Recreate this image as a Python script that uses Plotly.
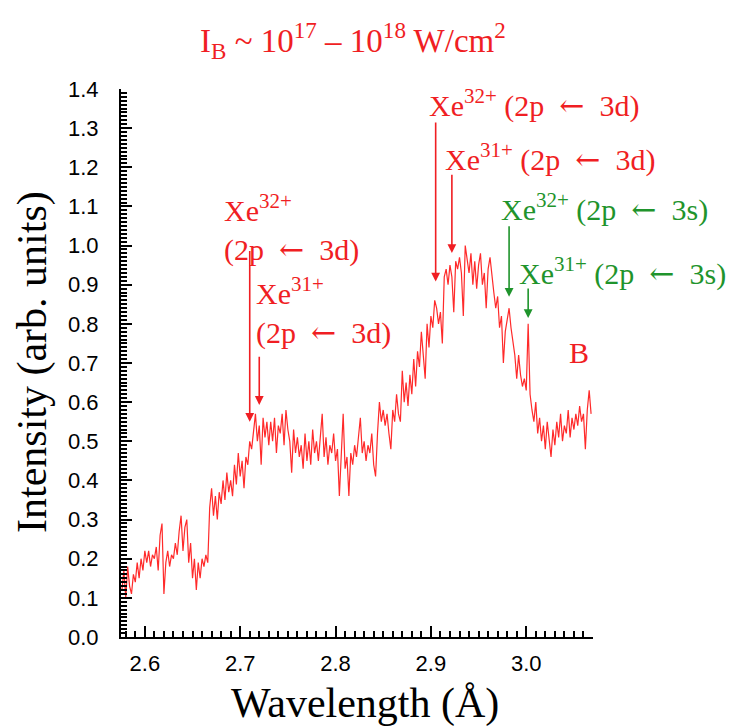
import plotly.graph_objects as go

# ---- data ----
WL_START = 2.576
WL_STEP = 0.002

seg_a = [0.12, 0.17, 0.10, 0.18, 0.13, 0.11, 0.16, 0.14, 0.19, 0.15, 0.20, 0.17, 0.22]
seg_b = [0.19, 0.22, 0.18, 0.21, 0.20, 0.23, 0.17, 0.26, 0.29, 0.11, 0.19, 0.22, 0.18, 0.21, 0.20]
seg_c = [0.24, 0.21, 0.27, 0.31, 0.22, 0.28, 0.30, 0.19, 0.24, 0.15, 0.20, 0.12, 0.19, 0.15, 0.20]
seg_d = [0.18, 0.21, 0.19, 0.33, 0.38, 0.31, 0.36, 0.30, 0.37, 0.34,
         0.40, 0.35, 0.42, 0.37, 0.40, 0.36, 0.44, 0.39, 0.47, 0.41]
seg_e = [0.45, 0.38, 0.46, 0.44, 0.50, 0.48, 0.53, 0.57, 0.50, 0.54, 0.44, 0.56, 0.51, 0.55, 0.49]
seg_f = [0.55, 0.50, 0.56, 0.47, 0.54, 0.52, 0.57, 0.49, 0.58, 0.53, 0.50, 0.42, 0.53,
         0.47, 0.51, 0.46, 0.49, 0.43, 0.52, 0.45, 0.50, 0.44, 0.53, 0.47, 0.50]
seg_g = [0.45, 0.52, 0.57, 0.46, 0.51, 0.44, 0.49, 0.47, 0.52, 0.45, 0.48, 0.36, 0.47, 0.57, 0.43,
         0.46, 0.36, 0.47, 0.44, 0.49, 0.46, 0.51, 0.56, 0.47, 0.50, 0.45, 0.49, 0.47, 0.52, 0.44]
seg_h = [0.41, 0.52, 0.60, 0.55, 0.58, 0.54, 0.57, 0.52, 0.48, 0.58, 0.55, 0.62, 0.57, 0.55, 0.68,
         0.60, 0.65, 0.59, 0.67, 0.62, 0.71, 0.64, 0.73, 0.69, 0.78, 0.72, 0.66, 0.80, 0.74, 0.82]
seg_i = [0.79, 0.86, 0.84, 0.80, 0.83, 0.75, 0.92, 0.94, 0.90, 0.95, 0.92, 0.83, 0.96, 0.94, 0.97,
         0.93, 0.82, 1.00, 0.97, 0.93, 0.98, 0.90, 0.96, 0.89, 0.95, 0.98, 0.90, 0.93, 0.84, 0.94,
         0.97, 0.92, 0.88,
         0.84, 0.87, 0.79, 0.82, 0.70, 0.78, 0.81, 0.84, 0.79, 0.76, 0.72, 0.66, 0.72, 0.67, 0.64,
         0.66, 0.63, 0.80, 0.62, 0.58]
seg_j = [0.55, 0.60, 0.52, 0.56, 0.50, 0.54, 0.48, 0.55, 0.50, 0.46, 0.53, 0.49, 0.55, 0.51, 0.57,
         0.50, 0.54, 0.52, 0.58, 0.51, 0.56, 0.53, 0.57, 0.54, 0.59, 0.55, 0.57, 0.48, 0.58, 0.63, 0.57]

intensity = seg_a + seg_b + seg_c + seg_d + seg_e + seg_f + seg_g + seg_h + seg_i + seg_j
wavelength = [round(WL_START + WL_STEP * i, 4) for i in range(len(intensity))]

x_ticks = [2.6, 2.7, 2.8, 2.9, 3.0]
y_ticks = [round(0.1 * k, 1) for k in range(15)]

RED = "#f01e23"
GREEN = "#1f942c"
ARROW = "\u2002<span style='font-family:DejaVu Serif'>\u2190</span>\u2002"

# arrows: (x, tip_y, tail_y, colour)
arrows = [
    (2.710, 0.550, 0.990, RED),
    (2.720, 0.593, 0.720, RED),
    (2.905, 0.908, 1.318, RED),
    (2.922, 0.981, 1.185, RED),
    (2.982, 0.869, 1.053, GREEN),
    (3.002, 0.815, 0.894, GREEN),
]
# labels: (x_left, y_center, text, colour)
labels = [
    (2.681, 1.045, f"Xe<sup>32+</sup><br>(2p{ARROW}3d)", RED),
    (2.715, 0.833, f"Xe<sup>31+</sup><br>(2p{ARROW}3d)", RED),
    (2.896, 1.364, f"Xe<sup>32+</sup> (2p{ARROW}3d)", RED),
    (2.913, 1.224, f"Xe<sup>31+</sup> (2p{ARROW}3d)", RED),
    (2.971, 1.096, f"Xe<sup>32+</sup> (2p{ARROW}3s)", GREEN),
    (2.990, 0.934, f"Xe<sup>31+</sup> (2p{ARROW}3s)", GREEN),
]

SERIF = "Liberation Serif, Times New Roman, serif"
SANS = "Liberation Sans, Arial, sans-serif"

L, R, T, B = 121, 137, 89, 90
W, H = 730, 727
pw, ph = W - L - R, H - T - B


def px_to_paper(px, py):
    return (px - L) / pw, (H - B - py) / ph


fig = go.Figure()
fig.add_trace(go.Scatter(x=wavelength, y=intensity, mode="lines",
                         line=dict(color="#ff2a2a", width=1.2), showlegend=False))

for x, tip, tail, col in arrows:
    fig.add_annotation(x=x, y=tip, ax=x, ay=tail, xref="x", yref="y", axref="x", ayref="y",
                       text="", showarrow=True, arrowhead=2, arrowsize=1.1, arrowwidth=1.6,
                       arrowcolor=col, standoff=0)

for x, y, t, col in labels:
    fig.add_annotation(x=x, y=y, xref="x", yref="y", text=t, showarrow=False,
                       xanchor="left", yanchor="middle", align="left",
                       font=dict(family=SERIF, size=30, color=col))

fig.add_annotation(x=3.055, y=0.727, xref="x", yref="y", text="B", showarrow=False,
                   xanchor="center", yanchor="middle",
                   font=dict(family=SERIF, size=30, color=RED))

# title
tx, ty = px_to_paper(353, 40)
fig.add_annotation(x=tx, y=ty, xref="paper", yref="paper",
                   text="I<sub>B</sub> ~ 10<sup>17</sup> – 10<sup>18</sup> W/cm<sup>2</sup>",
                   showarrow=False, xanchor="center", yanchor="middle",
                   font=dict(family=SERIF, size=33, color=RED))

# axis titles
ax_x, ax_y = px_to_paper(365, 703)
fig.add_annotation(x=ax_x, y=ax_y, xref="paper", yref="paper", text="Wavelength (Å)",
                   showarrow=False, xanchor="center", yanchor="middle",
                   font=dict(family=SERIF, size=42, color="black"))
ay_x, ay_y = px_to_paper(32, 362)
fig.add_annotation(x=ay_x, y=ay_y, xref="paper", yref="paper", text="Intensity (arb. units)",
                   textangle=-90, showarrow=False, xanchor="center", yanchor="middle",
                   font=dict(family=SERIF, size=42, color="black"))

fig.update_layout(
    width=W, height=H,
    margin=dict(l=L, r=R, t=T, b=B),
    plot_bgcolor="white", paper_bgcolor="white",
    xaxis=dict(range=[2.575, 3.07], tickvals=x_ticks, ticktext=[f"{v:.1f}" for v in x_ticks],
               showgrid=False, zeroline=False, showline=True, linecolor="black", linewidth=2,
               ticks="inside", ticklen=11, tickwidth=2, tickcolor="black",
               tickfont=dict(family=SANS, size=22, color="black"), ticklabelstandoff=6,
               minor=dict(dtick=0.01, tick0=2.6, ticks="inside", ticklen=6, tickwidth=1.5,
                          tickcolor="black", showgrid=False)),
    yaxis=dict(range=[0, 1.4], tickvals=y_ticks, ticktext=[f"{v:.1f}" for v in y_ticks],
               showgrid=False, zeroline=False, showline=True, linecolor="black", linewidth=2,
               ticks="inside", ticklen=11, tickwidth=2, tickcolor="black",
               tickfont=dict(family=SANS, size=22, color="black"), ticklabelstandoff=16,
               minor=dict(dtick=0.01, tick0=0, ticks="inside", ticklen=6, tickwidth=1.5,
                          tickcolor="black", showgrid=False)),
)

fig.write_html("out.html")
